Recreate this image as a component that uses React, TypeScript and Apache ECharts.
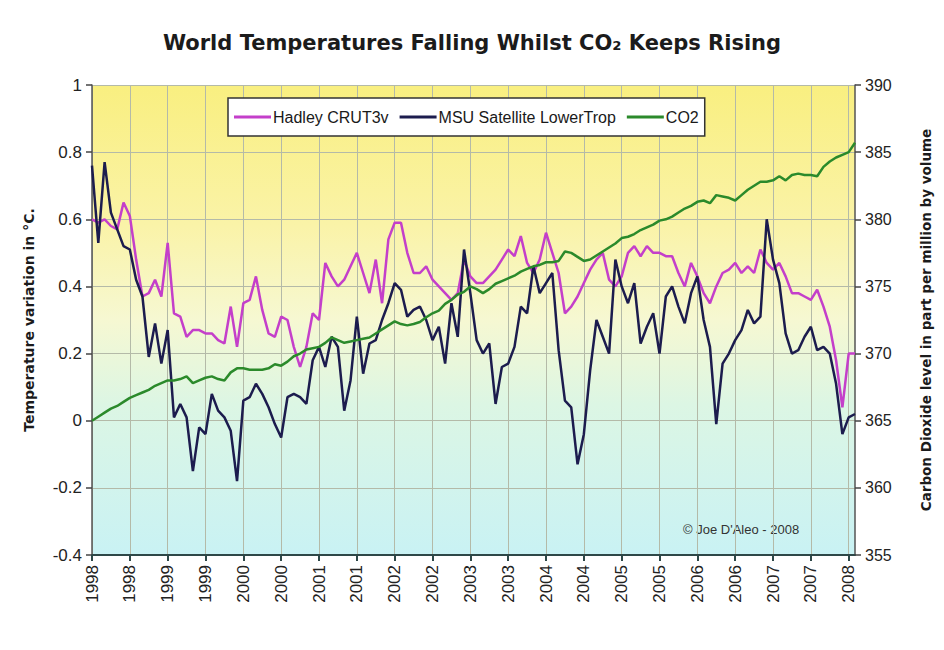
import React, { useEffect, useRef } from "react";
import * as echarts from "echarts";

const START_YEAR = 1998;

const hadley = [
  0.60, 0.59, 0.60, 0.58, 0.57, 0.65, 0.61, 0.48, 0.37, 0.38,
  0.42, 0.37, 0.53, 0.32, 0.31, 0.25, 0.27, 0.27, 0.26, 0.26,
  0.24, 0.23, 0.34, 0.22, 0.35, 0.36, 0.43, 0.33, 0.26, 0.25,
  0.31, 0.30, 0.22, 0.16, 0.22, 0.32, 0.30, 0.47, 0.43, 0.40,
  0.42, 0.46, 0.50, 0.44, 0.38, 0.48, 0.35, 0.54, 0.59, 0.59,
  0.50, 0.44, 0.44, 0.46, 0.42, 0.40, 0.38, 0.36, 0.38, 0.48,
  0.43, 0.41, 0.41, 0.43, 0.45, 0.48, 0.51, 0.49, 0.55, 0.47,
  0.44, 0.48, 0.56, 0.50, 0.44, 0.32, 0.34, 0.37, 0.41, 0.45,
  0.48, 0.50, 0.42, 0.40, 0.43, 0.50, 0.52, 0.49, 0.52, 0.50,
  0.50, 0.49, 0.49, 0.44, 0.40, 0.47, 0.43, 0.38, 0.35, 0.40,
  0.44, 0.45, 0.47, 0.44, 0.46, 0.44, 0.51, 0.47, 0.45, 0.47,
  0.43, 0.38, 0.38, 0.37, 0.36, 0.39, 0.34, 0.28, 0.18, 0.04,
  0.20, 0.20,
];

const msu = [
  0.76, 0.53, 0.77, 0.62, 0.57, 0.52, 0.51, 0.42, 0.37, 0.19,
  0.29, 0.17, 0.27, 0.01, 0.05, 0.01, -0.15, -0.02, -0.04, 0.08,
  0.03, 0.01, -0.03, -0.18, 0.06, 0.07, 0.11, 0.08, 0.04, -0.01,
  -0.05, 0.07, 0.08, 0.07, 0.05, 0.18, 0.22, 0.16, 0.25, 0.22,
  0.03, 0.12, 0.31, 0.14, 0.23, 0.24, 0.30, 0.35, 0.41, 0.39,
  0.31, 0.33, 0.34, 0.30, 0.24, 0.28, 0.17, 0.35, 0.25, 0.51,
  0.38, 0.24, 0.20, 0.23, 0.05, 0.16, 0.17, 0.22, 0.34, 0.32,
  0.46, 0.38, 0.41, 0.44, 0.21, 0.06, 0.04, -0.13, -0.04, 0.15,
  0.30, 0.25, 0.20, 0.48, 0.40, 0.35, 0.41, 0.23, 0.28, 0.32,
  0.20, 0.37, 0.40, 0.34, 0.29, 0.38, 0.43, 0.30, 0.22, -0.01,
  0.17, 0.20, 0.24, 0.27, 0.33, 0.29, 0.31, 0.60, 0.48, 0.41,
  0.26, 0.20, 0.21, 0.25, 0.28, 0.21, 0.22, 0.20, 0.11, -0.04,
  0.01, 0.02,
];

const co2 = [
  365.0, 365.3, 365.6, 365.9, 366.1, 366.4, 366.7, 366.9, 367.1, 367.3,
  367.6, 367.8, 368.0, 368.0, 368.1, 368.3, 367.8, 368.0, 368.2, 368.3,
  368.1, 368.0, 368.6, 368.9, 368.9, 368.8, 368.8, 368.8, 368.9, 369.2,
  369.1, 369.4, 369.8, 370.0, 370.3, 370.4, 370.5, 370.8, 371.2, 371.0,
  370.8, 370.9, 371.0, 371.1, 371.2, 371.5, 371.8, 372.1, 372.4, 372.2,
  372.1, 372.2, 372.35, 372.7, 373.0, 373.2, 373.7, 374.0, 374.4, 374.6,
  375.0, 374.8, 374.5, 374.8, 375.2, 375.4, 375.6, 375.8, 376.1, 376.3,
  376.5, 376.6, 376.8, 376.8, 376.9, 377.6, 377.5, 377.2, 376.9, 377.0,
  377.3, 377.6, 377.9, 378.2, 378.6, 378.7, 378.9, 379.2, 379.4, 379.6,
  379.9, 380.0, 380.2, 380.5, 380.8, 381.0, 381.3, 381.4, 381.2, 381.8,
  381.7, 381.6, 381.4, 381.8, 382.2, 382.5, 382.8, 382.8, 382.9, 383.2,
  382.9, 383.3, 383.4, 383.3, 383.3, 383.2, 383.9, 384.3, 384.6, 384.8,
  385.0, 385.7,
];

// one category per month, labelled with its year
const months = hadley.map((_, i) => String(START_YEAR + Math.floor(i / 12)));

const seriesNames = ["Hadley CRUT3v", "MSU Satellite LowerTrop", "CO2"];
const seriesColors = ["#c43fca", "#1c1c4e", "#2b8a2b"];

const TITLE = "World Temperatures Falling Whilst CO\u2082 Keeps Rising";
const LEFT_NAME = "Temperature variation in \u00B0C.";
const RIGHT_NAME = "Carbon Dioxide level in part per million by volume";
const CREDIT = "\u00A9 Joe D'Aleo - 2008";

export default function App() {
  const ref = useRef<HTMLDivElement>(null);

  useEffect(() => {
    if (!ref.current) return;
    const chart = echarts.init(ref.current, null, { renderer: "svg" });
    const gridColor = "#b4baa8";
    chart.setOption({
      animation: false,
      backgroundColor: "#ffffff",
      title: {
        text: TITLE,
        left: "center",
        top: 27,
        textStyle: {
          fontFamily: "DejaVu Sans",
          fontWeight: "bold",
          fontSize: 21,
          color: "#1b1b1b",
        },
      },
      legend: {
        data: seriesNames.map((n) => ({ name: n, icon: "rect" })),
        left: 228,
        top: 98,
        orient: "horizontal",
        backgroundColor: "#ffffff",
        borderColor: "#333333",
        borderWidth: 1.5,
        borderRadius: 0,
        padding: [11, 6, 11, 6],
        itemGap: 11,
        itemWidth: 37,
        itemHeight: 3,
        textStyle: {
          fontFamily: "Liberation Sans",
          fontSize: 16,
          color: "#1a1a1a",
          padding: [0, 0, 0, -3],
        },
      },
      grid: {
        left: 92,
        right: 89,
        top: 85,
        bottom: 95,
        show: true,
        borderWidth: 0,
        backgroundColor: new echarts.graphic.LinearGradient(0, 0, 0, 1, [
          { offset: 0, color: "#f9ef80" },
          { offset: 0.3, color: "#faf3a8" },
          { offset: 0.5, color: "#f6f8d2" },
          { offset: 0.68, color: "#dcf6e4" },
          { offset: 1, color: "#c9f2f4" },
        ]),
      },
      xAxis: {
        type: "category",
        data: months,
        boundaryGap: false,
        axisLine: { onZero: false, lineStyle: { color: "#2e4848", width: 2 } },
        axisTick: {
          interval: 5,
          length: 6,
          lineStyle: { color: "#2e4848", width: 2 },
        },
        axisLabel: {
          interval: 5,
          rotate: 90,
          fontFamily: "Liberation Sans",
          fontSize: 17,
          color: "#222222",
          margin: 10,
        },
        splitLine: {
          show: true,
          interval: 5,
          lineStyle: { color: gridColor, width: 1 },
        },
      },
      yAxis: [
        {
          type: "value",
          min: -0.4,
          max: 1,
          interval: 0.2,
          name: LEFT_NAME,
          nameLocation: "middle",
          nameRotate: 90,
          nameGap: 56,
          nameTextStyle: {
            fontFamily: "DejaVu Sans",
            fontWeight: "bold",
            fontSize: 14,
            color: "#1b1b1b",
          },
          axisLine: { show: true, lineStyle: { color: "#555555", width: 1.5 } },
          axisTick: { show: true, length: 6, lineStyle: { color: "#444444", width: 1.5 } },
          axisLabel: {
            fontFamily: "Liberation Sans",
            fontSize: 17,
            color: "#222222",
            margin: 10,
            formatter: (v: number) => String(Math.round(v * 10) / 10),
          },
          splitLine: { show: true, lineStyle: { color: gridColor, width: 1 } },
        },
        {
          type: "value",
          position: "right",
          min: 355,
          max: 390,
          interval: 5,
          name: RIGHT_NAME,
          nameLocation: "middle",
          nameRotate: 90,
          nameGap: 64,
          nameTextStyle: {
            fontFamily: "DejaVu Sans",
            fontWeight: "bold",
            fontSize: 13.5,
            color: "#1b1b1b",
          },
          axisLine: { show: true, lineStyle: { color: "#555555", width: 1.5 } },
          axisTick: { show: true, length: 6, lineStyle: { color: "#444444", width: 1.5 } },
          axisLabel: {
            fontFamily: "Liberation Sans",
            fontSize: 16,
            color: "#222222",
            margin: 10,
          },
          splitLine: { show: false },
        },
      ],
      series: [
        {
          name: seriesNames[0],
          type: "line",
          data: hadley,
          yAxisIndex: 0,
          symbol: "none",
          color: seriesColors[0],
          lineStyle: { width: 2.5, color: seriesColors[0] },
        },
        {
          name: seriesNames[1],
          type: "line",
          data: msu,
          yAxisIndex: 0,
          symbol: "none",
          color: seriesColors[1],
          lineStyle: { width: 2.5, color: seriesColors[1] },
        },
        {
          name: seriesNames[2],
          type: "line",
          data: co2,
          yAxisIndex: 1,
          symbol: "none",
          color: seriesColors[2],
          lineStyle: { width: 2.5, color: seriesColors[2] },
        },
      ],
      graphic: [
        {
          type: "text",
          left: 683,
          top: 523,
          style: {
            text: CREDIT,
            fontFamily: "Liberation Sans",
            fontSize: 13,
            fill: "#333333",
          },
        },
      ],
    });
    return () => chart.dispose();
  }, []);

  return (
    <div
      ref={ref}
      style={{ position: "fixed", left: 0, top: 0, width: 944, height: 650 }}
    />
  );
}
